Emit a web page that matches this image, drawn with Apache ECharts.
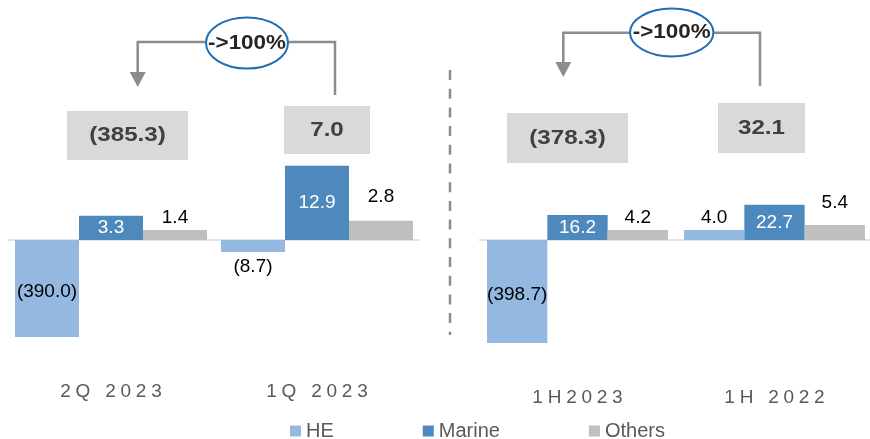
<!DOCTYPE html>
<html>
<head>
<meta charset="utf-8">
<script src="https://cdn.jsdelivr.net/npm/echarts@6/dist/echarts.min.js"></script>
<style>html,body{margin:0;padding:0;background:#fff}#c{width:870px;height:439px}</style>
</head>
<body>
<div id="c"></div>
<script>
// ---- data ----
const categoriesQuarter = ['2Q 2023', '1Q 2023'];
const categoriesHalf = ['1H2023', '1H 2022'];
const seriesNames = ['HE', 'Marine', 'Others'];

const heQuarter = [-390.0, -8.7];
const marineQuarter = [3.3, 12.9];
const othersQuarter = [1.4, 2.8];
const totalQuarter = [-385.3, 7.0];

const heHalf = [-398.7, 4.0];
const marineHalf = [16.2, 22.7];
const othersHalf = [4.2, 5.4];
const totalHalf = [-378.3, 32.1];

const changeLabels = ['->100%', '->100%'];

// The source chart is not drawn to scale: bar lengths as drawn
const heQuarterDrawn = [-97, -12];
const marineQuarterDrawn = [24.3, 74.3];
const othersQuarterDrawn = [10, 19.3];
const heHalfDrawn = [-103, 10];
const marineHalfDrawn = [25, 35.3];
const othersHalfDrawn = [10, 15];

// ---- styling ----
const FONT = '"Liberation Sans", Arial, sans-serif';
const COLORS = {HE: '#95B8E0', Marine: '#4E89BD', Others: '#BFBFBF'};
const fmt = v => v < 0 ? '(' + Math.abs(v).toFixed(1) + ')' : v.toFixed(1);
const spaced = s => s.split('').join('\u2005');

function items(drawn, values, labelCfgs) {
  return drawn.map((d, i) => ({
    value: d,
    label: Object.assign({show: true, formatter: fmt(values[i])}, labelCfgs[i])
  }));
}
const baseLabel = {fontFamily: FONT, fontSize: 19, color: '#000'};
const whiteInside = {position: 'inside', color: '#fff'};

function bar(name, idx, data, width, withBaseline) {
  const s = {
    name: name, type: 'bar', xAxisIndex: idx, yAxisIndex: idx,
    barWidth: width, barGap: '0%',
    itemStyle: {color: COLORS[name]},
    label: Object.assign({}, baseLabel),
    data: data, animation: false
  };
  if (withBaseline) {
    s.markLine = {
      silent: true, symbol: 'none', z: 1, label: {show: false},
      lineStyle: {color: '#D9D9D9', width: 1.5, type: 'solid'},
      data: [{yAxis: 0}]
    };
  }
  return s;
}

const series = [
  bar('HE', 0, items(heQuarterDrawn, heQuarter, [
    {position: 'inside', offset: [0, 3]}, {position: 'bottom', distance: 5}]), 64, true),
  bar('Marine', 0, items(marineQuarterDrawn, marineQuarter, [whiteInside, whiteInside]), 64),
  bar('Others', 0, items(othersQuarterDrawn, othersQuarter, [
    {position: 'top', distance: 3}, {position: 'top', distance: 14}]), 64),
  bar('HE', 1, items(heHalfDrawn, heHalf, [
    {position: 'inside', offset: [0, 3]}, {position: 'top', distance: 3}]), 60.3, true),
  bar('Marine', 1, items(marineHalfDrawn, marineHalf, [whiteInside, whiteInside]), 60.3),
  bar('Others', 1, items(othersHalfDrawn, othersHalf, [
    {position: 'top', distance: 3}, {position: 'top', distance: 13}]), 60.3)
];

function xAx(idx, cats, margin) {
  return {
    type: 'category', gridIndex: idx, data: cats, position: 'bottom',
    axisLine: {show: false, onZero: false},
    axisTick: {show: false},
    axisLabel: {margin: margin, fontFamily: FONT, fontSize: 19, color: '#595959',
      formatter: v => spaced(v)}
  };
}
function yAx(idx) {
  return {type: 'value', gridIndex: idx, min: -140, max: 240, show: false, splitLine: {show: false}};
}

// ---- annotations ----
const GRAY = '#8C8C8C';
function totalBox(x, y, w, h, value) {
  return {
    type: 'group', children: [
      {type: 'rect', shape: {x: x, y: y, width: w, height: h}, style: {fill: '#D9D9D9'}},
      {type: 'text', x: x + w / 2, y: y + h / 2, scaleX: 1.15,
        style: {text: fmt(value), fontFamily: FONT, fontWeight: 'bold', fontSize: 21,
          fill: '#404040', align: 'center', verticalAlign: 'middle'}}
    ]
  };
}
function arrow(xl, xr, yTop, yRightEnd, yHead, cx, cy, rx, ry, text) {
  return {
    type: 'group', children: [
      {type: 'polyline', shape: {points: [[xl, yHead - 15], [xl, yTop], [xr, yTop], [xr, yRightEnd]]},
        style: {stroke: GRAY, lineWidth: 2.5, fill: null}},
      {type: 'polygon', shape: {points: [[xl - 8, yHead - 15], [xl + 8, yHead - 15], [xl, yHead]]},
        style: {fill: GRAY}},
      {type: 'ellipse', shape: {cx: cx, cy: cy, rx: rx, ry: ry},
        style: {fill: '#fff', stroke: '#1F6FB4', lineWidth: 2}},
      {type: 'text', x: cx, y: cy, scaleX: 1.12,
        style: {text: text, fontFamily: FONT, fontWeight: 'bold', fontSize: 20,
          fill: '#262626', align: 'center', verticalAlign: 'middle'}}
    ]
  };
}

const chart = echarts.init(document.getElementById('c'), null, {renderer: 'canvas'});
chart.setOption({
  animation: false,
  backgroundColor: '#fff',
  grid: [
    {left: 8, top: 0, width: 412, height: 380, containLabel: false, outerBoundsMode: 'none'},
    {left: 479, top: 0, width: 394, height: 380, containLabel: false, outerBoundsMode: 'none'}
  ],
  xAxis: [xAx(0, categoriesQuarter, 2), xAx(1, categoriesHalf, 8)],
  yAxis: [yAx(0), yAx(1)],
  legend: {
    data: seriesNames, left: 285, top: 416, icon: 'rect', itemWidth: 11, itemHeight: 11,
    itemGap: 89, textStyle: {fontFamily: FONT, fontSize: 20, color: '#595959'}, selectedMode: false
  },
  series: series,
  graphic: [
    {type: 'line', shape: {x1: 450, y1: 70, x2: 450, y2: 335},
      style: {stroke: GRAY, lineWidth: 2.5, lineDash: [10, 8.7]}},
    arrow(137.7, 335, 42, 95, 87, 247, 43, 41, 25.5, changeLabels[0]),
    arrow(563.3, 760, 32.7, 86, 77, 671.7, 32.5, 41.7, 24, changeLabels[1]),
    totalBox(67, 111, 121, 49, totalQuarter[0]),
    totalBox(284, 106, 86, 48, totalQuarter[1]),
    totalBox(507, 113, 121, 50, totalHalf[0]),
    totalBox(718, 103, 87, 50, totalHalf[1])
  ]
});
</script>
</body>
</html>
